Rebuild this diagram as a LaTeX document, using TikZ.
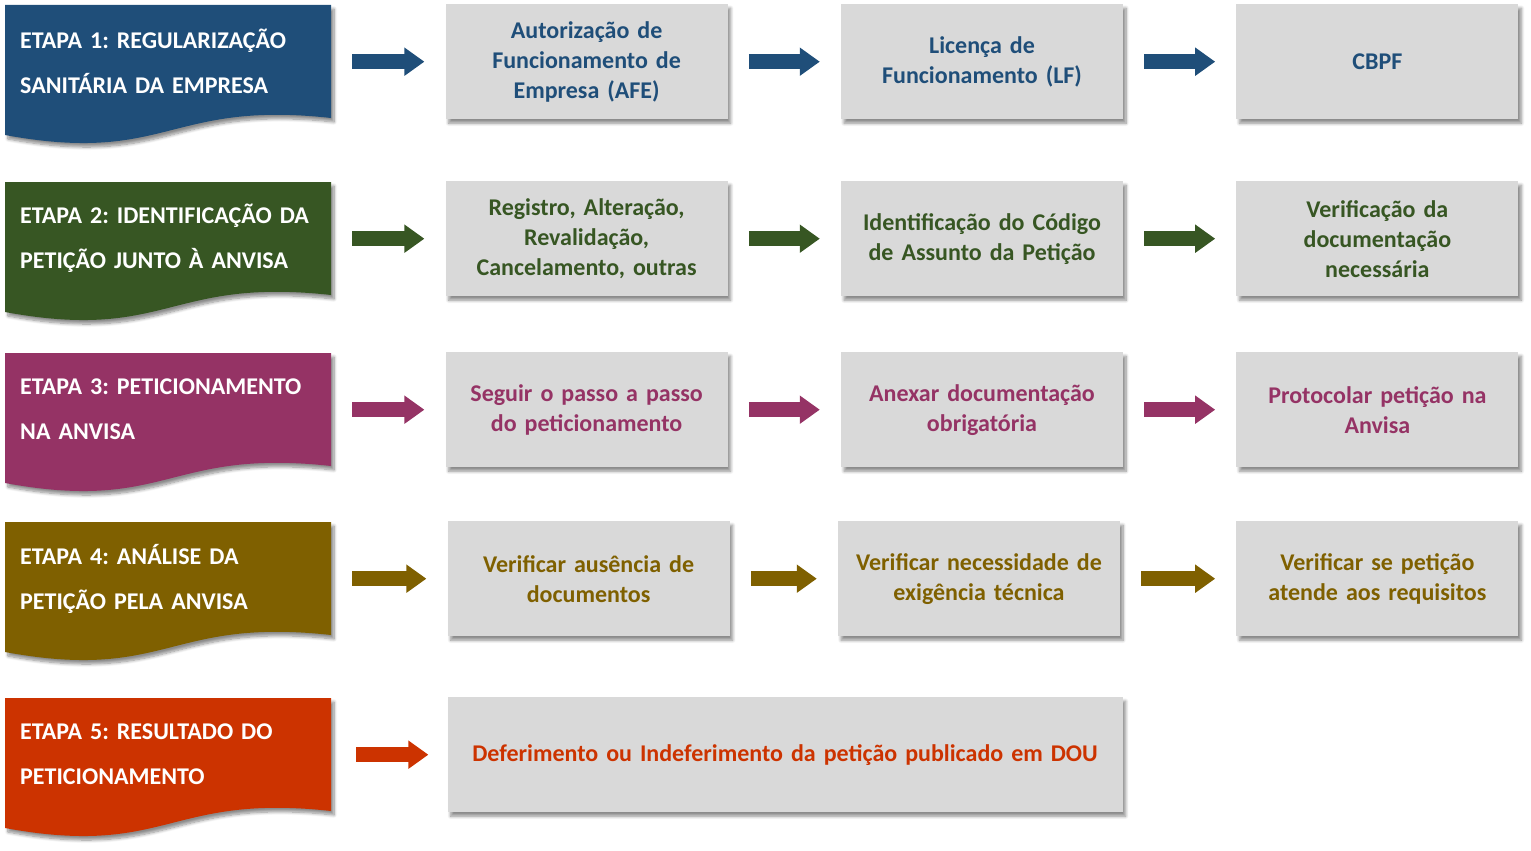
\documentclass[tikz,border=0pt]{standalone}
\usepackage{fontspec}
\setmainfont{Carlito}
\frenchspacing
\usetikzlibrary{positioning,shadows.blur,arrows.meta}

\definecolor{azul}{HTML}{1F4E79}
\definecolor{verde}{HTML}{375623}
\definecolor{vinho}{HTML}{953365}
\definecolor{oliva}{HTML}{7F6000}
\definecolor{laranja}{HTML}{CC3300}
\definecolor{cinza}{HTML}{D9D9D9}

\begin{document}
\begin{tikzpicture}[x=1pt, y=1pt]

        \def\gap{113pt}

        \useasboundingbox (0,0) rectangle (1531,-851);

        % Looks shared by the stage labels, the step boxes and the arrows
        \tikzset{
            sombra/.style={blur shadow={shadow xshift=3pt,
                shadow yshift=-4pt, shadow opacity=45,
                shadow blur radius=3pt, shadow blur steps=8}},
            etapa/.style={anchor=north west, minimum width=326pt,
                minimum height=113pt, text width=296pt, inner xsep=15pt,
                align=left, text=white,
                font=\bfseries\fontsize{24}{45}\selectfont},
            passo/.style={fill=cinza, sombra, minimum width=282pt,
                minimum height=115pt, text width=264pt, align=center,
                font=\bfseries\fontsize{24}{30}\selectfont},
            seta/.style={line width=15pt,
                -{Triangle[length=20pt, width=27pt]},
                shorten <=21pt, shorten >=21pt}
        }

        % Wavy document shapes of the stages (top edge at \t)
        \foreach \t/\c in {5/azul, 182/verde, 353/vinho, 522/oliva,
            698/laranja}
        \fill[\c, sombra] (5,-\t) -- (331,-\t) -- (331,-\t-113)
            .. controls (168,-\t-95) and (168,-\t-160)
            .. (5,-\t-130) -- cycle;

        % Stage labels on the left
        \node[etapa] (s1) at (5, -5)
        {ETAPA 1: REGULARIZAÇÃO\\SANITÁRIA DA EMPRESA};
        \node[etapa] (s2) at (5, -182)
        {ETAPA 2: IDENTIFICAÇÃO DA\\PETIÇÃO JUNTO À ANVISA};
        \node[etapa] (s3) at (5, -353)
        {ETAPA 3: PETICIONAMENTO\\NA ANVISA};
        \node[etapa] (s4) at (5, -522)
        {ETAPA 4: ANÁLISE DA\\PETIÇÃO PELA ANVISA};
        \node[etapa] (s5) at (5, -698)
        {ETAPA 5: RESULTADO DO\\PETICIONAMENTO};

        % Steps of each stage
        \node[passo, text=azul, right=114pt of s1] (b11)
        {Autorização de\\Funcionamento de\\Empresa (AFE)};
        \node[passo, text=azul, right=\gap of b11] (b12)
        {Licença de\\Funcionamento (LF)};
        \node[passo, text=azul, right=\gap of b12] (b13) {CBPF};

        \node[passo, text=verde, right=114pt of s2] (b21)
        {Registro, Alteração,\\Revalidação,\\Cancelamento, outras};
        \node[passo, text=verde, right=\gap of b21] (b22)
        {Identificação do Código\\de Assunto da Petição};
        \node[passo, text=verde, right=\gap of b22] (b23)
        {Verificação da\\documentação\\necessária};

        \node[passo, text=vinho, right=114pt of s3] (b31)
        {Seguir o passo a passo\\do peticionamento};
        \node[passo, text=vinho, right=\gap of b31] (b32)
        {Anexar documentação\\obrigatória};
        \node[passo, text=vinho, right=\gap of b32] (b33)
        {Protocolar petição na\\Anvisa};

        \node[passo, text=oliva, right=116pt of s4] (b41)
        {Verificar ausência de\\documentos};
        \node[passo, text=oliva, right=108pt of b41] (b42)
        {Verificar necessidade de\\exigência técnica};
        \node[passo, text=oliva, right=116pt of b42] (b43)
        {Verificar se petição\\atende aos requisitos};

        \node[passo, text=laranja, right=116pt of s5, minimum width=675pt,
            text width=650pt] (b5)
        {Deferimento ou Indeferimento da petição publicado em DOU};

        % Block arrows
        \foreach \r/\c in {1/azul, 2/verde, 3/vinho, 4/oliva} {
            \draw[seta, \c] (s\r.east) -- (b\r1.west);
            \draw[seta, \c] (b\r1.east) -- (b\r2.west);
            \draw[seta, \c] (b\r2.east) -- (b\r3.west);
        }
        \draw[seta, laranja, shorten <=25pt, shorten >=19pt]
            (s5.east) -- (b5.west);

\end{tikzpicture}
\end{document}
